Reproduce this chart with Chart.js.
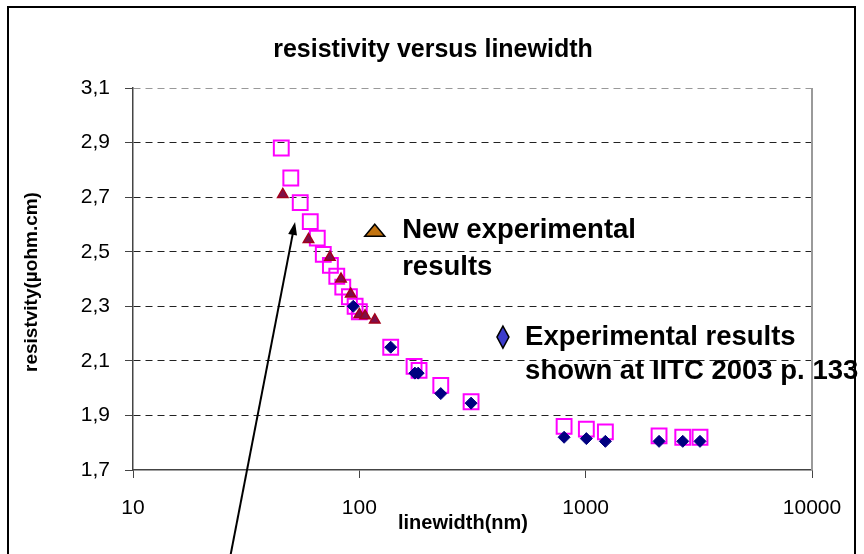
<!DOCTYPE html>
<html>
<head>
<meta charset="utf-8">
<script src="https://cdn.jsdelivr.net/npm/chart.js@4.4.1/dist/chart.umd.min.js"></script>
<style>
body { margin: 0; background: #fff; }
canvas { display: block; }
</style>
</head>
<body>
<canvas id="myChart" width="864" height="554"></canvas>
<script>
// model values (hollow pink squares)
var modelX = [45.2, 49.8, 54.8, 60.7, 65.2, 69.3, 74.5, 79.5, 84.5, 90.4, 95.8, 100, 137.6, 174.5, 183.6, 229, 311.7, 803, 1007, 1222, 2110, 2685, 3200];
var modelY = [2.88, 2.77, 2.68, 2.61, 2.55, 2.49, 2.45, 2.41, 2.37, 2.335, 2.30, 2.28, 2.15, 2.08, 2.065, 2.01, 1.95, 1.86, 1.85, 1.84, 1.825, 1.82, 1.82];

// new experimental results (triangles)
var newX = [45.9, 59.6, 74.1, 83, 91.6, 100, 106, 117];
var newY = [2.71, 2.545, 2.48, 2.40, 2.345, 2.27, 2.265, 2.25];

// IITC 2003 results (diamonds)
var iitcX = [94, 137.6, 176, 182, 229, 311.7, 803, 1007, 1222, 2110, 2685, 3200];
var iitcY = [2.30, 2.15, 2.055, 2.055, 1.98, 1.945, 1.82, 1.815, 1.805, 1.805, 1.805, 1.805];

var xTicks = [10, 100, 1000, 10000];
var yMin = 1.7, yMax = 3.1, yStep = 0.2;

var chartTitle = "resistivity versus linewidth";
var xTitle = "linewidth(nm)";
var yTitle = "resistvity(\u00b5ohm.cm)";

// annotation text boxes, placed in data units
var newLabel = { x: 117, y: 2.579, textX: 154.6, lines: ["New experimental", "results"], lineY: [2.579, 2.444] };
var iitcLabel = { x: 431, y: 2.187, textX: 540, lines: ["Experimental results", "shown at IITC 2003 p. 133"], lineY: [2.187, 2.063] };
var arrowTip = { x: 52, y: 2.609 };
var arrowTail = { x: 26.2, y: 1.334 };

var FONT = "'Liberation Sans', Arial, sans-serif";

function toPoints(xs, ys) {
    var pts = [];
    for (var i = 0; i < xs.length; i++) {
        pts.push({ x: xs[i], y: ys[i] });
    }
    return pts;
}

var overlay = {
    id: 'overlay',
    afterDatasetsDraw: function(chart) {
        var ctx = chart.ctx;
        var xs = chart.scales.x, ys = chart.scales.y;

        // arrow
        var tx = xs.getPixelForValue(arrowTip.x), ty = ys.getPixelForValue(arrowTip.y);
        var bx = xs.getPixelForValue(arrowTail.x), by = ys.getPixelForValue(arrowTail.y);
        var ang = Math.atan2(ty - by, tx - bx);
        ctx.save();
        ctx.strokeStyle = '#000';
        ctx.fillStyle = '#000';
        ctx.lineWidth = 2;
        ctx.beginPath();
        ctx.moveTo(bx, by);
        ctx.lineTo(tx - 8 * Math.cos(ang), ty - 8 * Math.sin(ang));
        ctx.stroke();
        ctx.beginPath();
        ctx.moveTo(tx, ty);
        ctx.lineTo(tx - 13 * Math.cos(ang) + 4.5 * Math.sin(ang), ty - 13 * Math.sin(ang) - 4.5 * Math.cos(ang));
        ctx.lineTo(tx - 13 * Math.cos(ang) - 4.5 * Math.sin(ang), ty - 13 * Math.sin(ang) + 4.5 * Math.cos(ang));
        ctx.closePath();
        ctx.fill();

        // legend triangle
        var lx = xs.getPixelForValue(newLabel.x), ly = ys.getPixelForValue(newLabel.y);
        ctx.beginPath();
        ctx.moveTo(lx, ly - 6);
        ctx.lineTo(lx + 10, ly + 6);
        ctx.lineTo(lx - 10, ly + 6);
        ctx.closePath();
        ctx.fillStyle = '#c27310';
        ctx.fill();
        ctx.lineWidth = 1.5;
        ctx.strokeStyle = '#000';
        ctx.stroke();

        // legend diamond
        var dx = xs.getPixelForValue(iitcLabel.x), dy = ys.getPixelForValue(iitcLabel.y);
        ctx.beginPath();
        ctx.moveTo(dx, dy - 11);
        ctx.lineTo(dx + 6, dy);
        ctx.lineTo(dx, dy + 11);
        ctx.lineTo(dx - 6, dy);
        ctx.closePath();
        ctx.fillStyle = '#3c3ccc';
        ctx.fill();
        ctx.stroke();

        // label texts
        ctx.fillStyle = '#000';
        ctx.font = 'bold 27.5px ' + FONT;
        ctx.textAlign = 'left';
        ctx.textBaseline = 'middle';
        [newLabel, iitcLabel].forEach(function(lab) {
            var px = xs.getPixelForValue(lab.textX);
            lab.lines.forEach(function(t, i) {
                ctx.fillText(t, px, ys.getPixelForValue(lab.lineY[i]));
            });
        });
        ctx.restore();
    },
    afterDraw: function(chart) {
        var ctx = chart.ctx;
        var a = chart.chartArea;
        ctx.save();
        // plot area border on the right
        ctx.strokeStyle = '#9a9a9a';
        ctx.lineWidth = 2;
        ctx.beginPath();
        ctx.moveTo(a.right, a.top);
        ctx.lineTo(a.right, a.bottom);
        ctx.stroke();

        // titles
        ctx.fillStyle = '#000';
        ctx.textAlign = 'center';
        ctx.textBaseline = 'middle';
        ctx.font = 'bold 25px ' + FONT;
        ctx.fillText(chartTitle, 433, 50);
        ctx.font = 'bold 20px ' + FONT;
        ctx.fillText(xTitle, 463, 523);
        ctx.font = 'bold 19px ' + FONT;
        ctx.translate(32, 282);
        ctx.rotate(-Math.PI / 2);
        ctx.fillText(yTitle, 0, 0);
        ctx.setTransform(1, 0, 0, 1, 0, 0);

        // outer frame
        ctx.strokeStyle = '#000';
        ctx.lineWidth = 2;
        ctx.strokeRect(8, 7, 847, 600);
        ctx.restore();
    }
};

var chartData = {
    datasets: [{
        label: "New experimental results",
        data: toPoints(newX, newY),
        pointStyle: 'triangle',
        pointRadius: 6,
        backgroundColor: '#7d1048',
        borderColor: '#a3001c',
        borderWidth: 1.5,
        showLine: false
    },
    {
        label: "Experimental results shown at IITC 2003 p. 133",
        data: toPoints(iitcX, iitcY),
        pointStyle: 'rectRot',
        pointRadius: 6,
        backgroundColor: '#000080',
        borderColor: '#000080',
        borderWidth: 1,
        showLine: false
    },
    {
        label: "model",
        data: toPoints(modelX, modelY),
        pointStyle: 'rect',
        pointRadius: 10.5,
        backgroundColor: 'rgba(0,0,0,0)',
        borderColor: '#ff00ff',
        borderWidth: 2,
        showLine: false
    }]
};

var config = {
    type: 'scatter',
    data: chartData,
    plugins: [overlay],
    options: {
        responsive: false,
        animation: false,
        layout: { padding: { left: 0, top: 88, right: 52, bottom: 0 } },
        plugins: {
            legend: { display: false },
            tooltip: { enabled: false },
            title: { display: false }
        },
        scales: {
            x: {
                type: 'logarithmic',
                min: 10,
                max: 10000,
                afterBuildTicks: function(axis) {
                    axis.ticks = xTicks.map(function(v) { return { value: v }; });
                },
                afterFit: function(scale) { scale.height = 84; },
                ticks: {
                    color: '#000',
                    font: { family: FONT, size: 21 },
                    padding: 18,
                    maxRotation: 0,
                    autoSkip: false,
                    callback: function(v) { return String(v); }
                },
                grid: {
                    drawOnChartArea: false,
                    drawTicks: true,
                    tickLength: 8,
                    color: '#444',
                    tickColor: '#444'
                },
                border: { color: '#444', width: 1.5 }
            },
            y: {
                min: yMin,
                max: yMax,
                afterFit: function(scale) { scale.width = 133; },
                ticks: {
                    stepSize: yStep,
                    color: '#000',
                    font: { family: FONT, size: 21 },
                    padding: 15,
                    callback: function(v) { return v.toFixed(1).replace('.', ','); }
                },
                grid: {
                    color: function(c) {
                        if (c.tick && Math.abs(c.tick.value - yMin) < 1e-6) return 'rgba(0,0,0,0)';
                        if (c.tick && Math.abs(c.tick.value - yMax) < 1e-6) return '#999';
                        return '#222';
                    },
                    lineWidth: 1,
                    tickLength: 8,
                    tickColor: '#444',
                    tickBorderDash: []
                },
                border: { color: '#444', width: 1.5, dash: [7, 5] }
            }
        }
    }
};

var myChart = new Chart(document.getElementById('myChart'), config);
</script>
</body>
</html>
